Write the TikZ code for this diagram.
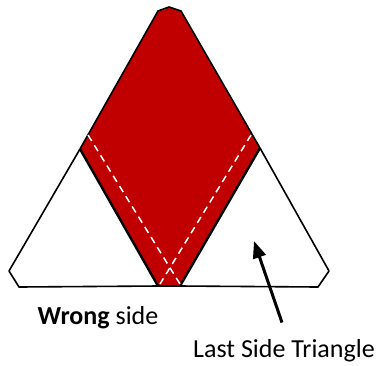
\documentclass[tikz,border=0pt]{standalone}
\usepackage{fontspec}
\setmainfont{Carlito}
\usepackage{xcolor}
\usetikzlibrary{arrows.meta,positioning}
\definecolor{foldred}{HTML}{C00000}

\begin{document}
\begin{tikzpicture}[x=1pt,y=-1pt,
 edge/.style={draw=black,line width=1.6pt,line join=round},
 fold/.style={draw=white,line width=1.5pt,dash pattern=on 7pt off 5pt},
 label/.style={font=\fontsize{26}{30}\selectfont,inner sep=0pt}]
\useasboundingbox (0,0) rectangle (382,365);
\coordinate (tl) at (158,11);
\coordinate (apex) at (169,7);
\coordinate (tr) at (181,11);
\coordinate (l) at (80,149);
\coordinate (r) at (260,148);
\coordinate (bl) at (158,286);
\coordinate (br) at (180,286);
\coordinate (ll) at (9,271);
\coordinate (llb) at (19,287);
\coordinate (rr) at (329,271);
\coordinate (rrb) at (318,287);
\fill[foldred] (tl)--(apex)--(tr)--(r)--(br)--(bl)--(l)--cycle;
\draw[edge] (l)--(tl)--(apex)--(tr)--(r);
\draw[edge] (l)--(ll)--(llb)--(bl)--(br)--(rrb)--(rr)--(r);
\draw[edge,line width=2.4pt] (l)--(bl);
\draw[edge,line width=2.4pt] (r)--(br);
\draw[fold] (88,135)--(180,284);
\draw[fold] (251,135)--(160,284);
\node[label] (wrong) at (98,318) {\textbf{Wrong} side};
\node[label] (last) at (284,351) {Last Side Triangle};
\coordinate (tip) at (254,241);
\draw[line width=3pt,-{Triangle[length=17pt,width=13pt]}] ([shift={(-2,-17)}]last.north) -- (tip);
\end{tikzpicture}
\end{document}
